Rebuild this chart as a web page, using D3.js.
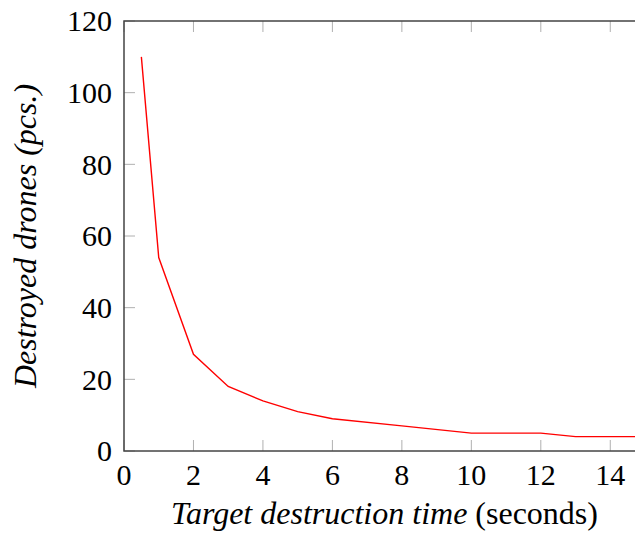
<!DOCTYPE html>
<html>
<head>
<meta charset="utf-8">
<script src="https://cdn.jsdelivr.net/npm/d3@7"></script>
<style>
  body { margin: 0; background: #fff; }
  text { font-family: "Liberation Serif", "Times New Roman", serif; }
</style>
</head>
<body>
<script>
// data
var times = [0.5, 1, 2, 3, 4, 5, 6, 8, 10, 12, 13, 15];
var drones = [110, 54, 27, 18, 14, 11, 9, 7, 5, 5, 4, 4];
var xTicks = [0, 2, 4, 6, 8, 10, 12, 14];
var yTicks = [0, 20, 40, 60, 80, 100, 120];

var W = 635, H = 537;
var mLeft = 124, mRight = 645, mTop = 21, mBottom = 451;
var fs = 30, labelFs = 32;

var svg = d3.select("body").append("svg").attr("width", W).attr("height", H);

var x = d3.scaleLinear().domain([0, 15]).range([mLeft, mRight]);
var y = d3.scaleLinear().domain([0, 120]).range([mBottom, mTop]);

// inner ticks (mirrored on top / right)
var tickLen = 11;
svg.selectAll("line.xt")
  .data(xTicks).enter().append("line")
    .attr("class", "xt")
    .attr("x1", function(d){ return x(d); })
    .attr("x2", function(d){ return x(d); })
    .attr("y1", mBottom).attr("y2", mBottom - tickLen)
    .attr("stroke", "#b0b0b0").attr("stroke-width", 1);
svg.selectAll("line.xt2")
  .data(xTicks).enter().append("line")
    .attr("class", "xt2")
    .attr("x1", function(d){ return x(d); })
    .attr("x2", function(d){ return x(d); })
    .attr("y1", mTop).attr("y2", mTop + tickLen)
    .attr("stroke", "#b0b0b0").attr("stroke-width", 1);
svg.selectAll("line.yt")
  .data(yTicks).enter().append("line")
    .attr("class", "yt")
    .attr("x1", mLeft).attr("x2", mLeft + tickLen)
    .attr("y1", function(d){ return y(d); })
    .attr("y2", function(d){ return y(d); })
    .attr("stroke", "#b0b0b0").attr("stroke-width", 1);

// the curve
var line = d3.line()
  .x(function(d){ return x(d[0]); })
  .y(function(d){ return y(d[1]); });
svg.append("path")
  .datum(d3.zip(times, drones))
  .attr("d", line)
  .attr("fill", "none")
  .attr("stroke", "#ff0000")
  .attr("stroke-width", 1.4);

// frame
svg.append("rect")
  .attr("x", mLeft).attr("y", mTop)
  .attr("width", mRight - mLeft).attr("height", mBottom - mTop)
  .attr("fill", "none").attr("stroke", "#444").attr("stroke-width", 1.5);

// tick labels
svg.selectAll("text.xl")
  .data(xTicks).enter().append("text")
    .attr("class", "xl")
    .attr("x", function(d){ return x(d); })
    .attr("y", 485)
    .attr("text-anchor", "middle")
    .attr("font-size", fs)
    .text(function(d){ return d; });
svg.selectAll("text.yl")
  .data(yTicks).enter().append("text")
    .attr("class", "yl")
    .attr("x", 112)
    .attr("y", function(d){ return y(d); })
    .attr("dy", "0.34em")
    .attr("text-anchor", "end")
    .attr("font-size", fs)
    .text(function(d){ return d; });

// axis labels
var xl = svg.append("text")
  .attr("x", (mLeft + mRight) / 2).attr("y", 524)
  .attr("text-anchor", "middle").attr("font-size", labelFs);
xl.append("tspan").attr("font-style", "italic").text("Target destruction time");
xl.append("tspan").text(" (seconds)");

svg.append("text")
  .attr("transform", "translate(36," + ((mTop + mBottom) / 2) + ") rotate(-90)")
  .attr("text-anchor", "middle").attr("font-size", labelFs)
  .attr("font-style", "italic")
  .text("Destroyed drones (pcs.)");
</script>
</body>
</html>
